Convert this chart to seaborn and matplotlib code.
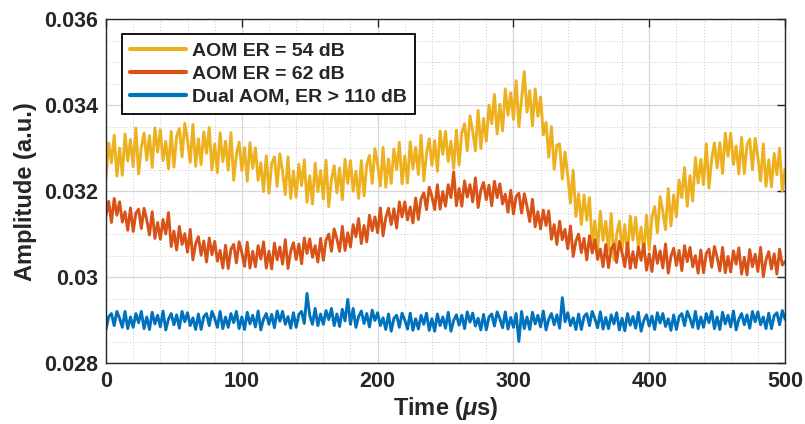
import numpy as np
import pandas as pd
import matplotlib
matplotlib.use('Agg')
import matplotlib.pyplot as plt
from matplotlib.lines import Line2D
from matplotlib.ticker import MultipleLocator, FuncFormatter
import seaborn as sns

# sample times (us), one reading every 2 us
time_us = np.arange(0, 500.1, 2)

# amplitudes, in units of 1e-5 a.u. (10 values = 20 us per row)
amp_er54 = [
    3232, 3312, 3266, 3330, 3235, 3300, 3237, 3333, 3270, 3320,
    3257, 3347, 3240, 3302, 3335, 3272, 3329, 3255, 3347, 3291,
    3343, 3271, 3316, 3252, 3339, 3256, 3328, 3346, 3280, 3358,
    3319, 3267, 3355, 3258, 3322, 3262, 3338, 3288, 3348, 3249,
    3310, 3243, 3336, 3269, 3316, 3249, 3336, 3225, 3285, 3314,
    3248, 3301, 3223, 3313, 3253, 3301, 3225, 3266, 3199, 3282,
    3195, 3264, 3280, 3211, 3287, 3245, 3192, 3280, 3183, 3247,
    3186, 3263, 3213, 3273, 3174, 3236, 3170, 3265, 3199, 3248,
    3182, 3272, 3164, 3227, 3259, 3196, 3254, 3180, 3274, 3218,
    3271, 3200, 3246, 3183, 3271, 3189, 3262, 3283, 3218, 3299,
    3261, 3212, 3302, 3209, 3275, 3218, 3298, 3250, 3314, 3217,
    3282, 3219, 3315, 3252, 3302, 3239, 3330, 3224, 3288, 3322,
    3260, 3318, 3246, 3340, 3286, 3339, 3269, 3316, 3253, 3342,
    3261, 3336, 3357, 3294, 3375, 3339, 3294, 3388, 3299, 3369,
    3316, 3400, 3357, 3425, 3333, 3402, 3340, 3438, 3377, 3429,
    3367, 3457, 3350, 3414, 3478, 3384, 3434, 3352, 3438, 3374,
    3419, 3331, 3360, 3279, 3350, 3251, 3307, 3310, 3228, 3291,
    3236, 3172, 3249, 3141, 3194, 3122, 3191, 3132, 3185, 3077,
    3131, 3062, 3153, 3085, 3130, 3061, 3148, 3039, 3099, 3130,
    3064, 3122, 3048, 3142, 3086, 3139, 3069, 3116, 3055, 3144,
    3063, 3140, 3164, 3103, 3187, 3153, 3110, 3206, 3119, 3191,
    3140, 3226, 3185, 3255, 3165, 3236, 3177, 3278, 3219, 3274,
    3215, 3310, 3207, 3275, 3312, 3254, 3313, 3241, 3335, 3281,
    3335, 3262, 3305, 3240, 3325, 3241, 3308, 3321, 3250, 3323,
    3279, 3224, 3310, 3211, 3273, 3210, 3288, 3238, 3300, 3201,
    3252,
]
amp_er62 = [
    3143, 3176, 3127, 3183, 3144, 3175, 3128, 3152, 3109, 3161,
    3106, 3149, 3158, 3113, 3160, 3133, 3098, 3152, 3090, 3127,
    3088, 3134, 3100, 3150, 3071, 3107, 3063, 3118, 3076, 3101,
    3058, 3111, 3040, 3078, 3094, 3051, 3084, 3035, 3091, 3052,
    3083, 3037, 3062, 3021, 3074, 3020, 3065, 3076, 3033, 3082,
    3057, 3025, 3081, 3021, 3060, 3024, 3073, 3042, 3082, 3021,
    3060, 3019, 3079, 3040, 3070, 3030, 3087, 3020, 3060, 3080,
    3041, 3077, 3031, 3091, 3055, 3089, 3046, 3073, 3035, 3090,
    3039, 3086, 3100, 3060, 3112, 3089, 3060, 3118, 3062, 3103,
    3070, 3122, 3094, 3136, 3078, 3120, 3082, 3144, 3108, 3140,
    3103, 3161, 3096, 3138, 3160, 3122, 3159, 3114, 3175, 3140,
    3175, 3133, 3163, 3126, 3184, 3134, 3182, 3196, 3157, 3209,
    3187, 3157, 3215, 3158, 3199, 3165, 3215, 3185, 3245, 3166,
    3206, 3165, 3224, 3186, 3215, 3175, 3231, 3162, 3202, 3220,
    3180, 3214, 3166, 3223, 3185, 3217, 3170, 3193, 3151, 3202,
    3147, 3188, 3195, 3149, 3194, 3165, 3129, 3181, 3117, 3152,
    3112, 3156, 3120, 3154, 3088, 3122, 3076, 3130, 3087, 3111,
    3066, 3119, 3048, 3084, 3100, 3057, 3090, 3040, 3096, 3056,
    3087, 3041, 3065, 3024, 3076, 3022, 3066, 3077, 3034, 3083,
    3057, 3024, 3080, 3020, 3059, 3022, 3070, 3039, 3077, 3016,
    3054, 3013, 3072, 3032, 3061, 3021, 3077, 3009, 3048, 3067,
    3027, 3062, 3015, 3073, 3036, 3069, 3024, 3050, 3009, 3063,
    3010, 3055, 3065, 3023, 3071, 3046, 3014, 3069, 3010, 3048,
    3012, 3061, 3030, 3068, 3007, 3046, 3005, 3064, 3024, 3053,
    3013, 3069, 3001, 3040, 3059, 3019, 3054, 3007, 3065, 3028,
    3036,
]
amp_dual = [
    2878, 2908, 2915, 2887, 2920, 2904, 2883, 2920, 2880, 2907,
    2883, 2915, 2894, 2920, 2880, 2907, 2878, 2918, 2891, 2911,
    2884, 2921, 2877, 2902, 2915, 2889, 2912, 2881, 2920, 2896,
    2917, 2887, 2905, 2878, 2914, 2878, 2908, 2915, 2887, 2920,
    2904, 2883, 2920, 2880, 2907, 2883, 2915, 2894, 2920, 2880,
    2907, 2878, 2918, 2891, 2911, 2884, 2921, 2877, 2902, 2915,
    2890, 2913, 2882, 2921, 2897, 2920, 2890, 2908, 2881, 2917,
    2883, 2913, 2920, 2892, 2962, 2911, 2890, 2927, 2887, 2914,
    2890, 2922, 2901, 2927, 2887, 2914, 2885, 2925, 2898, 2948,
    2890, 2927, 2883, 2908, 2921, 2892, 2915, 2884, 2923, 2899,
    2917, 2887, 2905, 2878, 2914, 2874, 2904, 2911, 2883, 2916,
    2900, 2879, 2916, 2876, 2903, 2879, 2911, 2890, 2916, 2876,
    2903, 2874, 2914, 2887, 2907, 2881, 2918, 2874, 2899, 2912,
    2888, 2911, 2880, 2919, 2895, 2916, 2886, 2904, 2877, 2913,
    2877, 2907, 2914, 2886, 2919, 2903, 2882, 2919, 2879, 2906,
    2883, 2915, 2850, 2920, 2880, 2907, 2878, 2918, 2891, 2911,
    2884, 2921, 2877, 2902, 2915, 2889, 2912, 2881, 2952, 2896,
    2917, 2887, 2905, 2878, 2914, 2878, 2908, 2915, 2887, 2920,
    2903, 2882, 2919, 2879, 2906, 2880, 2912, 2891, 2917, 2877,
    2904, 2875, 2915, 2888, 2908, 2881, 2918, 2874, 2899, 2912,
    2886, 2909, 2878, 2917, 2893, 2915, 2885, 2903, 2876, 2912,
    2878, 2908, 2915, 2887, 2920, 2904, 2883, 2920, 2880, 2907,
    2883, 2915, 2894, 2920, 2880, 2907, 2878, 2918, 2891, 2911,
    2884, 2921, 2877, 2902, 2915, 2889, 2912, 2881, 2920, 2896,
    2919, 2889, 2907, 2880, 2916, 2880, 2910, 2917, 2889, 2922,
    2902,
]

labels = ['AOM ER = 54 dB', 'AOM ER = 62 dB', 'Dual AOM, ER > 110 dB']
colors = ['#EDB120', '#D95319', '#0072BD']

df = pd.DataFrame({
    'Time': np.tile(time_us, 3),
    'Amplitude': np.concatenate([amp_er54, amp_er62, amp_dual]) * 1e-5,
    'Series': np.repeat(labels, len(time_us)),
})

sns.set_theme(style='white')
plt.rcParams['font.family'] = ['Liberation Sans', 'DejaVu Sans']
plt.rcParams['font.weight'] = 'bold'
plt.rcParams['axes.labelweight'] = 'bold'
plt.rcParams['mathtext.fontset'] = 'custom'
plt.rcParams['mathtext.it'] = 'Liberation Sans:italic:bold'
plt.rcParams['mathtext.rm'] = 'Liberation Sans:bold'

fig = plt.figure(figsize=(8.05, 4.24), dpi=100)
ax = fig.add_axes([0.1317, 0.1439, 0.8435, 0.8106])

sns.lineplot(data=df, x='Time', y='Amplitude', hue='Series', hue_order=labels,
             palette=colors, estimator=None, sort=False, lw=2.1, ax=ax, legend=False)

ax.set_xlim(0, 500)
ax.set_ylim(0.028, 0.036)
ax.xaxis.set_major_locator(MultipleLocator(100))
ax.xaxis.set_minor_locator(MultipleLocator(20))
ax.yaxis.set_major_locator(MultipleLocator(0.002))
ax.yaxis.set_minor_locator(MultipleLocator(0.0005))
ax.yaxis.set_major_formatter(FuncFormatter(lambda v, p: f'{v:g}'))

ax.grid(which='major', color='#d6d6d6', lw=0.9, ls='-')
ax.grid(which='minor', color='#c8c8c8', lw=0.7, ls=(0, (1, 2)))
ax.set_axisbelow(True)
ax.tick_params(which='major', direction='in', length=6, width=1, top=True, right=True,
               labelsize=15.5, pad=6, colors='#262626')
ax.tick_params(which='minor', length=0)
for sp in ax.spines.values():
    sp.set_color('#262626')
    sp.set_linewidth(1.0)

ax.set_xlabel(r'Time ($\mu$s)', fontsize=17, labelpad=2, color='#262626')
ax.set_ylabel('Amplitude (a.u.)', fontsize=17, labelpad=5, color='#262626')

handles = [Line2D([], [], color=c, lw=3) for c in colors]
leg = ax.legend(handles, labels, loc='upper left', bbox_to_anchor=(0.0236, 0.956),
                borderaxespad=0, fontsize=14, handlelength=2.9, handletextpad=0.3,
                labelspacing=0.28, borderpad=0.4, frameon=True, fancybox=False,
                edgecolor='black', framealpha=1)
leg.get_frame().set_linewidth(1.3)

fig.savefig('out.png', dpi=100)
